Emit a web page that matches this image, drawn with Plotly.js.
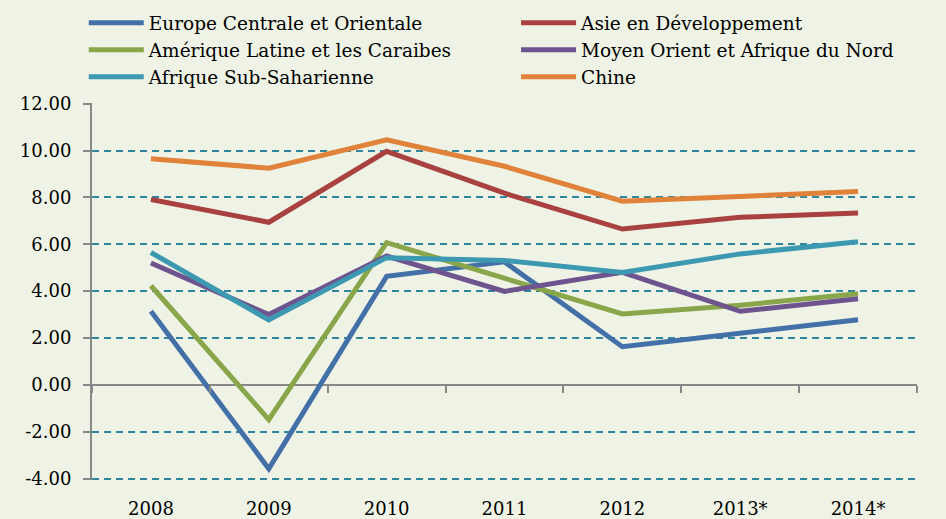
<!DOCTYPE html>
<html><head><meta charset="utf-8">
<script src="https://cdn.plot.ly/plotly-3.0.1.min.js"></script>
<style>html,body{margin:0;padding:0;background:#EFF3E5;}</style>
</head><body><div id="chart" style="width:946px;height:519px;"></div>
<script>
const years = ["2008","2009","2010","2011","2012","2013*","2014*"];
const europe = [3.14, -3.58, 4.63, 5.25, 1.63, 2.19, 2.78];
const asie = [7.91, 6.94, 9.97, 8.18, 6.65, 7.15, 7.34];
const amerique = [4.23, -1.48, 6.07, 4.56, 3.03, 3.40, 3.89];
const moyen = [5.20, 3.00, 5.50, 3.99, 4.80, 3.14, 3.68];
const afrique = [5.65, 2.77, 5.43, 5.31, 4.80, 5.59, 6.11];
const chine = [9.65, 9.25, 10.46, 9.33, 7.84, 8.06, 8.25];
const names = ["Europe Centrale et Orientale","Asie en Développement","Amérique Latine et les Caraibes","Moyen Orient et Afrique du Nord","Afrique Sub-Saharienne","Chine"];
const colors = ["#4470A8","#A8413F","#89A64A","#6E548E","#3D99B1","#E0823A"];
const series = [europe, asie, amerique, moyen, afrique, chine];
const legendOf = ["legend","legend2","legend","legend2","legend","legend2"];
const yTicks = [-4,-2,0,2,4,6,8,10,12];
const font = "'DejaVu Serif', serif";

const traces = [];
// helper trace for the zero-crossing category axis ticks (drawn first, below data)
traces.push({x: years, y: years.map(()=>null), xaxis:'x2', yaxis:'y', showlegend:false, hoverinfo:'skip', type:'scatter', mode:'lines'});
series.forEach((s,i)=>traces.push({
  x: years, y: s, name: names[i], type:'scatter', mode:'lines',
  line:{color:colors[i], width:5}, xaxis:'x', yaxis:'y', legend: legendOf[i]
}));

const legendBase = {orientation:'v', xanchor:'left', y:1.262, yanchor:'top', itemwidth:55,
  font:{family:font, size:18.5, color:'#000'}, bgcolor:'rgba(0,0,0,0)', tracegroupgap:0};

const layout = {
  width:946, height:519,
  paper_bgcolor:'#EFF3E5', plot_bgcolor:'#EFF3E5',
  margin:{l:92, r:29, t:103, b:39, autoexpand:false},
  font:{family:font, color:'#000'},
  showlegend:true,
  legend:Object.assign({}, legendBase, {x:-0.01}),
  legend2:Object.assign({}, legendBase, {x:0.514}),
  xaxis:{type:'category', categoryarray:years, range:[-0.5,6.5], showgrid:false, zeroline:false,
    showline:false, ticks:'', tickfont:{size:18, family:font}, ticklabelstandoff:16},
  xaxis2:{type:'category', categoryarray:years, range:[-0.5,6.5], overlaying:'x', anchor:'free', position:0.2519,
    showline:false, ticks:'outside', tickson:'boundaries', ticklen:7,
    tickcolor:'#888888', tickwidth:2, showticklabels:false, showgrid:false, zeroline:false},
  yaxis:{range:[-4.06,12.03], tickvals:yTicks, ticktext:yTicks.map(v=>v.toFixed(2)),
    showgrid:true, gridcolor:'#31869E', gridwidth:2, griddash:'7px,5px',
    zeroline:true, zerolinecolor:'#888888', zerolinewidth:2,
    showline:true, linecolor:'#888888', linewidth:2,
    ticks:'outside', ticklen:7, tickcolor:'#888888', tickwidth:2, ticklabelstandoff:8,
    tickfont:{size:18, family:font}}
};
Plotly.newPlot('chart', traces, layout, {displayModeBar:false, staticPlot:true});
</script></body></html>
